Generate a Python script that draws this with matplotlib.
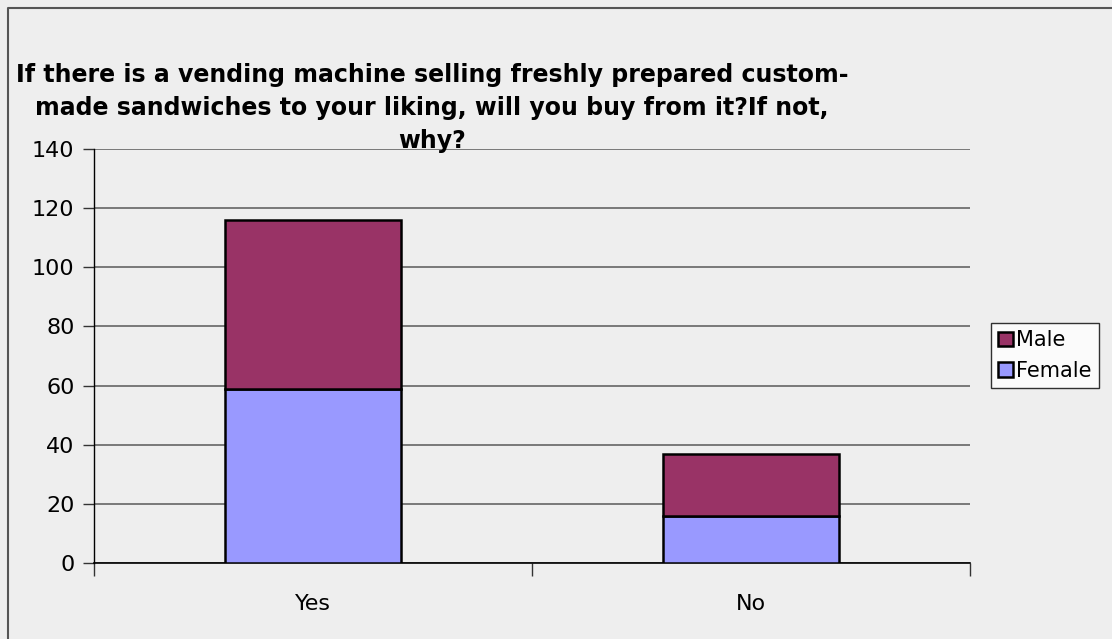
import matplotlib
matplotlib.use("Agg")
import matplotlib.pyplot as plt
from matplotlib.lines import Line2D
import numpy as np

categories = ["Yes", "No"]
female = [59, 16]
male = [57, 21]
series_names = ["Male", "Female"]
y_ticks = [0, 20, 40, 60, 80, 100, 120, 140]
title_lines = ["If there is a vending machine selling freshly prepared custom-",
               "made sandwiches to your liking, will you buy from it?If not,",
               "why?"]

BG = "#EEEEEE"
C_MALE = "#993366"
C_FEMALE = "#9999FF"

plt.rcParams['font.family'] = ['DejaVu Sans']

W, H = 1112, 639
fig = plt.figure(figsize=(W / 100, H / 100), dpi=100, facecolor=BG)
ax = fig.add_axes([94 / W, 1 - 563 / H, (970 - 94) / W, (563 - 149) / H])
ax.set_facecolor(BG)

x = np.arange(len(categories))
bw = 0.4
b_f = ax.bar(x, female, width=bw, color=C_FEMALE, edgecolor="black", linewidth=1.8, zorder=3)
b_m = ax.bar(x, male, width=bw, bottom=female, color=C_MALE, edgecolor="black", linewidth=1.8, zorder=3)

ax.set_xlim(-0.5, len(categories) - 0.5)
ax.set_ylim(0, 140)
ax.set_yticks(y_ticks)
ax.set_yticklabels([str(v) for v in y_ticks], fontsize=16)
ax.yaxis.grid(True, color="#6f6f6f", linewidth=1.3, zorder=0)
ax.set_axisbelow(True)

ax.set_xticks(x)
ax.set_xticklabels(categories, fontsize=16)
ax.tick_params(axis='x', length=0, pad=22)
ax.set_xticks(np.arange(-0.5, len(categories), 1.0), minor=True)
ax.tick_params(axis='x', which='minor', length=9, width=1, color="#333333", direction='out')
ax.tick_params(axis='y', length=8, width=1, direction='out', pad=6, color="#333333")

for s in ["top", "right"]:
    ax.spines[s].set_visible(False)
ax.spines["left"].set_color("black")
ax.spines["bottom"].set_color("black")
ax.spines["left"].set_linewidth(1)
ax.spines["bottom"].set_linewidth(1.2)

leg = ax.legend([b_m, b_f], series_names, loc="upper left",
                bbox_to_anchor=(991 / W, 1 - 323 / H), bbox_transform=fig.transFigure,
                fontsize=15, frameon=True, fancybox=False, handlelength=0.7, handleheight=0.7,
                handletextpad=0.15, borderpad=0.35, labelspacing=0.5, borderaxespad=0)
leg.get_frame().set_edgecolor("black")
leg.get_frame().set_linewidth(1)
leg.get_frame().set_facecolor("white")

# title, one text per wrapped line
for i, line in enumerate(title_lines):
    fig.text(432 / W, 1 - (82 + 33 * i) / H, line, ha="center", va="baseline",
             fontsize=17, fontweight="bold")

# outer frame (left and top edges visible)
fig.add_artist(Line2D([7.5 / W, 7.5 / W, 1.0], [0.0, 1 - 7.5 / H, 1 - 7.5 / H],
                      transform=fig.transFigure, color="#555555", linewidth=1.5))

fig.savefig("out.png", dpi=100, facecolor=BG)
